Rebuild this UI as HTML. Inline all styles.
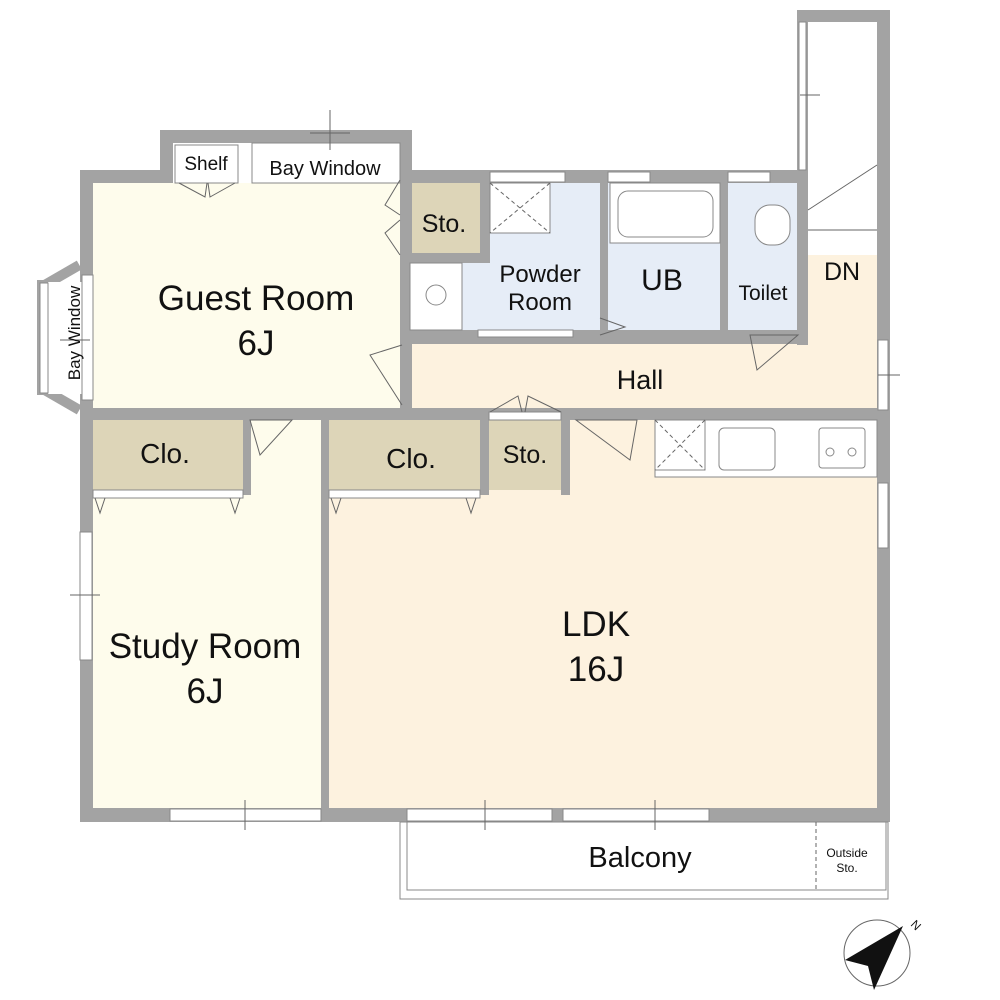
<!DOCTYPE html>
<html><head><meta charset="utf-8"><style>
html,body{margin:0;padding:0;background:#fff;}
svg{display:block;font-family:"Liberation Sans",sans-serif;}
</style></head><body>
<svg width="1000" height="1000" viewBox="0 0 1000 1000" xmlns="http://www.w3.org/2000/svg">
<rect width="1000" height="1000" fill="#fff"/>
<!-- floors -->
<rect x="93" y="183" width="310" height="226" fill="#fefcec"/>
<rect x="93" y="420" width="228" height="390" fill="#fefcec"/>
<rect x="329" y="420" width="549" height="390" fill="#fdf2df"/>
<rect x="410" y="343" width="468" height="67" fill="#fdf2df"/>
<rect x="808" y="255" width="70" height="90" fill="#fdf2df"/>
<rect x="410" y="183" width="190" height="152" fill="#e6edf7"/>
<rect x="608" y="183" width="112" height="152" fill="#e6edf7"/>
<rect x="728" y="183" width="70" height="152" fill="#e6edf7"/>
<!-- storage -->
<rect x="410" y="183" width="70" height="70" fill="#ddd5b8"/>
<rect x="93" y="420" width="150" height="70" fill="#ddd5b8"/>
<rect x="329" y="420" width="151" height="70" fill="#ddd5b8"/>
<rect x="489" y="420" width="72" height="70" fill="#ddd5b8"/>
<!-- walls -->
<g fill="#a3a3a3">
<rect x="80" y="170" width="13" height="652"/>
<rect x="80" y="170" width="93" height="13"/>
<rect x="160" y="130" width="13" height="53"/>
<rect x="160" y="130" width="252" height="13"/>
<rect x="400" y="130" width="12" height="280"/>
<rect x="400" y="170" width="408" height="13"/>
<rect x="797" y="10" width="93" height="12"/>
<rect x="797" y="10" width="11" height="160"/>
<rect x="877" y="10" width="13" height="812"/>
<rect x="797" y="170" width="11" height="175"/>
<rect x="600" y="183" width="8" height="152"/>
<rect x="720" y="183" width="8" height="152"/>
<rect x="480" y="183" width="10" height="80"/>
<rect x="410" y="253" width="80" height="10"/>
<rect x="400" y="330" width="408" height="14"/>
<rect x="80" y="408" width="810" height="12"/>
<rect x="243" y="420" width="8" height="75"/>
<rect x="321" y="420" width="8" height="402"/>
<rect x="480" y="420" width="9" height="75"/>
<rect x="561" y="420" width="9" height="75"/>
<rect x="80" y="808" width="810" height="14"/>
<rect x="42" y="270" width="40" height="10" transform="rotate(-30 62 275)"/>
<rect x="42" y="395" width="40" height="10" transform="rotate(30 62 400)"/>
<rect x="37" y="280" width="9" height="115"/>
</g>
<!-- windows / white fixtures -->
<g fill="#fff" stroke="#888" stroke-width="1">
<rect x="175" y="145" width="63" height="38"/>
<rect x="252" y="143" width="148" height="40"/>
<rect x="48" y="282" width="34" height="112" fill="#fff" stroke="none"/>
<rect x="40" y="283" width="8" height="110"/>
<rect x="82" y="275" width="11" height="125"/>
<rect x="410" y="263" width="52" height="67"/>
<rect x="490" y="183" width="60" height="50"/>
<rect x="490" y="172" width="75" height="10"/>
<rect x="608" y="172" width="42" height="10"/>
<rect x="728" y="172" width="42" height="10"/>
<rect x="610" y="183" width="110" height="60"/>
<rect x="618" y="191" width="95" height="46" rx="10"/>
<rect x="808" y="170" width="69" height="85" stroke="none"/>
<rect x="799" y="22" width="7" height="148"/>
<rect x="878" y="340" width="10" height="70"/>
<rect x="878" y="483" width="10" height="65"/>
<rect x="655" y="420" width="222" height="57"/>
<rect x="655" y="420" width="50" height="50"/>
<rect x="719" y="428" width="56" height="42" rx="5"/>
<rect x="819" y="428" width="46" height="40" rx="3"/>
<circle cx="830" cy="452" r="4"/><circle cx="852" cy="452" r="4"/>
<rect x="93" y="490" width="150" height="8"/>
<rect x="329" y="490" width="151" height="8"/>
<rect x="489" y="412" width="72" height="8"/>
<rect x="80" y="532" width="12" height="128"/>
<rect x="170" y="809" width="151" height="12"/>
<rect x="407" y="809" width="145" height="12"/>
<rect x="563" y="809" width="146" height="12"/>
<rect x="400" y="822" width="488" height="77"/>
<rect x="407" y="822" width="479" height="68"/>
<rect x="478" y="330" width="95" height="7"/>
<rect x="755" y="205" width="35" height="40" rx="15"/>
<circle cx="436" cy="295" r="10"/>
</g>
<g stroke="#666" stroke-width="1" fill="none">
<path d="M490 183 L550 233 M550 183 L490 233" stroke-dasharray="4 3"/>
<path d="M655 420 L705 470 M705 420 L655 470" stroke-dasharray="4 3"/>
<path d="M808 210 L877 165 M808 230 L877 230"/>
<path d="M330 110 V150 M310 133 H350 M800 95 H820 M878 375 H900 M70 595 H100 M245 800 V830 M485 800 V830 M655 800 V830 M60 340 H90"/>
<path d="M400 180 L385 205 L400 215 M400 220 L385 233 L400 255"/>
<path d="M402 345 L370 355 L402 405"/>
<path d="M250 420 H292 L260 455 Z M576 420 H637 L630 460 Z M750 335 H798 L757 370 Z"/>
<path d="M179 183 L205 197 L207 183 M235 183 L210 197 L208 183"/>
<path d="M490 412 L518 396 L522 412 M561 412 L528 396 L525 412"/>
<path d="M600 318 L625 327 L600 335"/>
<path d="M95 498 L100 513 L105 498 M230 498 L235 513 L240 498 M331 498 L336 513 L341 498 M466 498 L471 513 L476 498"/>
<path d="M816 822 V890" stroke-dasharray="4 3"/>
<circle cx="877" cy="953" r="33"/>
</g>
<path d="M903 926 L845 960 L868 966 L874 990 Z" fill="#111"/>
<text x="910" y="925" font-size="12" fill="#111" transform="rotate(45 910 925)">N</text>
<g fill="#111" text-anchor="middle">
<text x="256" y="310" font-size="35">Guest Room</text>
<text x="256" y="355" font-size="35">6J</text>
<text x="205" y="658" font-size="35">Study Room</text>
<text x="205" y="703" font-size="35">6J</text>
<text x="596" y="636" font-size="35">LDK</text>
<text x="596" y="681" font-size="35">16J</text>
<text x="640" y="389" font-size="27">Hall</text>
<text x="662" y="290" font-size="30">UB</text>
<text x="540" y="282" font-size="24">Powder</text>
<text x="540" y="310" font-size="24">Room</text>
<text x="763" y="300" font-size="21">Toilet</text>
<text x="842" y="280" font-size="25">DN</text>
<text x="444" y="232" font-size="25">Sto.</text>
<text x="525" y="463" font-size="25">Sto.</text>
<text x="165" y="463" font-size="28">Clo.</text>
<text x="411" y="468" font-size="28">Clo.</text>
<text x="206" y="170" font-size="19">Shelf</text>
<text x="325" y="175" font-size="20">Bay Window</text>
<text x="640" y="867" font-size="29">Balcony</text>
<text x="847" y="857" font-size="12">Outside</text>
<text x="847" y="872" font-size="12">Sto.</text>
<text x="0" y="0" font-size="17" transform="translate(80 333) rotate(-90)">Bay Window</text>
</g>
</svg>
</body></html>
